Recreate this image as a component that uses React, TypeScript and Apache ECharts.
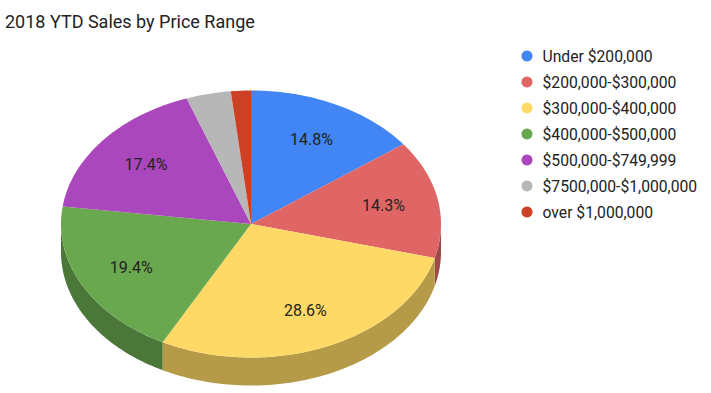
import React, { useEffect, useRef } from "react";
import * as echarts from "echarts";

const title = "2018 YTD Sales by Price Range";
const categories = [
  "Under $200,000",
  "$200,000-$300,000",
  "$300,000-$400,000",
  "$400,000-$500,000",
  "$500,000-$749,999",
  "$7500,000-$1,000,000",
  "over $1,000,000",
];
const values = [14.8, 14.3, 28.6, 19.4, 17.4, 3.8, 1.7];
const colors = ["#4285f4", "#e06666", "#ffd966", "#6aa84f", "#ab47bc", "#b7b7b7", "#cc4125"];

// layout of the 3D pie
const CX = 251;
const CY = 224;
const RX = 190;
const RY = 133.5;
const DEPTH = 28;
const LABEL_R = 0.71;
const LABEL_MIN_PCT = 10;

function darken(hex: string, f: number) {
  const n = parseInt(hex.slice(1), 16);
  const r = Math.round(((n >> 16) & 255) * f);
  const g = Math.round(((n >> 8) & 255) * f);
  const b = Math.round((n & 255) * f);
  return `rgb(${r},${g},${b})`;
}

function pt(deg: number, dy = 0): number[] {
  const a = (deg * Math.PI) / 180;
  return [CX + RX * Math.sin(a), CY - RY * Math.cos(a) + dy];
}

function arcPoints(a0: number, a1: number, dy = 0): number[][] {
  const pts: number[][] = [];
  const steps = Math.max(2, Math.ceil((a1 - a0) / 1));
  for (let i = 0; i <= steps; i++) pts.push(pt(a0 + ((a1 - a0) * i) / steps, dy));
  return pts;
}

export default function App() {
  const ref = useRef<HTMLDivElement>(null);
  useEffect(() => {
    document.body.style.margin = "0";
    if (!ref.current) return;
    const chart = echarts.init(ref.current, null, { renderer: "svg" });
    const total = values.reduce((s, v) => s + v, 0);
    let acc = 0;
    const series = values.map((v, i) => {
      const start = (acc / total) * 360;
      acc += v;
      const end = (acc / total) * 360;
      const pct = (v / total) * 100;
      const color = colors[i];
      return {
        type: "custom",
        name: categories[i],
        coordinateSystem: "none",
        silent: true,
        itemStyle: { color },
        data: [[start, end, pct]],
        renderItem: (params: any, api: any) => {
          const a0 = api.value(0);
          const a1 = api.value(1);
          const p = api.value(2);
          const children: any[] = [];
          // side (only the front half, 90..270 degrees)
          const s0 = Math.max(a0, 90);
          const s1 = Math.min(a1, 270);
          if (s1 > s0) {
            const topEdge = arcPoints(s0, s1, 0);
            const botEdge = arcPoints(s0, s1, DEPTH).reverse();
            children.push({
              type: "polygon",
              shape: { points: topEdge.concat(botEdge) },
              style: { fill: darken(color, 0.71) },
            });
          }
          // top face
          children.push({
            type: "polygon",
            shape: { points: [[CX, CY]].concat(arcPoints(a0, a1, 0)) },
            style: { fill: color },
          });
          if (p >= LABEL_MIN_PCT) {
            const mid = ((a0 + a1) / 2) * (Math.PI / 180);
            children.push({
              type: "text",
              x: CX + LABEL_R * RX * Math.sin(mid),
              y: CY - LABEL_R * RY * Math.cos(mid),
              style: {
                text: p.toFixed(1) + "%",
                align: "center",
                verticalAlign: "middle",
                font: "16px Roboto",
                fill: "#222222",
              },
            });
          }
          return { type: "group", children };
        },
      };
    });
    chart.setOption({
      animation: false,
      color: colors,
      title: {
        text: title,
        left: 5,
        top: 12,
        padding: 0,
        textStyle: { fontFamily: "Roboto", fontSize: 18, fontWeight: "normal", color: "#222222" },
      },
      legend: {
        orient: "vertical",
        left: 521.5,
        top: 48,
        padding: 0,
        itemWidth: 21,
        itemHeight: 11,
        itemGap: 10,
        icon: "circle",
        selectedMode: false,
        textStyle: { fontFamily: "Roboto", fontSize: 15.7, color: "#222222", lineHeight: 16 },
        data: categories,
      },
      series,
    } as any);
    return () => chart.dispose();
  }, []);
  return <div ref={ref} style={{ width: 711, height: 393 }} />;
}
